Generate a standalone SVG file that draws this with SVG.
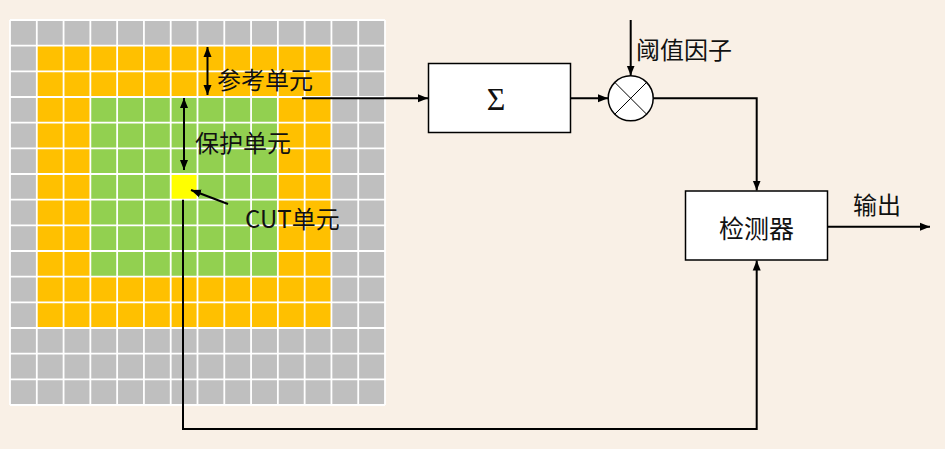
<svg xmlns="http://www.w3.org/2000/svg" width="945" height="449" viewBox="0 0 945 449">
<defs>
<style>
.ln{stroke:#000;stroke-width:2;fill:none}
.box{fill:#fff;stroke:#000;stroke-width:1.5}
.t{font-family:"Noto Sans CJK SC","Noto Sans",sans-serif;fill:#111}
.grid{stroke:#fff;stroke-width:1.8;fill:none}
</style>
<marker id="ah" viewBox="0 0 10 10" refX="10" refY="5" markerWidth="10" markerHeight="10" markerUnits="userSpaceOnUse" orient="auto-start-reverse">
<path d="M0,1 L10,5 L0,9 Z" fill="#000"/>
</marker>
</defs>
<rect width="945" height="449" fill="#F9F0E6"/>
<g id="grid">
<rect x="10" y="20" width="375" height="385" fill="#BFBFBF"/>
<rect x="36.79" y="45.67" width="294.64" height="282.33" fill="#FFC000"/>
<rect x="90.36" y="97" width="187.5" height="179.67" fill="#92D050"/>
<rect x="170.71" y="174" width="26.79" height="25.67" fill="#FFFF00"/>
<path class="grid" d="M10,20V405M36.79,20V405M63.57,20V405M90.36,20V405M117.14,20V405M143.93,20V405M170.71,20V405M197.5,20V405M224.29,20V405M251.07,20V405M277.86,20V405M304.64,20V405M331.43,20V405M358.21,20V405M385,20V405M10,20H385M10,45.67H385M10,71.33H385M10,97H385M10,122.67H385M10,148.33H385M10,174H385M10,199.67H385M10,225.33H385M10,251H385M10,276.67H385M10,302.33H385M10,328H385M10,353.67H385M10,379.33H385M10,405H385"/>
</g>
<g id="labels">
<line class="ln" x1="207.5" y1="47" x2="207.5" y2="95" marker-start="url(#ah)" marker-end="url(#ah)"/>
<text class="t" x="217" y="89" font-size="24">参考单元</text>
<line class="ln" x1="184" y1="98" x2="184" y2="170" marker-start="url(#ah)" marker-end="url(#ah)"/>
<text class="t" x="195" y="152" font-size="24">保护单元</text>
<line class="ln" x1="228" y1="204" x2="191" y2="190" marker-end="url(#ah)"/>
<text class="t" x="245" y="228" font-size="24">CUT单元</text>
</g>
<g id="sum">
<rect class="box" x="428.5" y="63.5" width="142" height="69"/>
<text x="496" y="110" font-size="32" text-anchor="middle" font-family="Liberation Serif,serif" fill="#111">Σ</text>
</g>
<g id="mult">
<circle cx="630.7" cy="98.3" r="22.5" fill="#fff" stroke="#000" stroke-width="1.5"/>
<path d="M614.8,82.4L646.6,114.2M646.6,82.4L614.8,114.2" stroke="#000" stroke-width="1"/>
<text class="t" x="636" y="59" font-size="24">阈值因子</text>
</g>
<g id="detector">
<rect class="box" x="685.5" y="191" width="142" height="69"/>
<text class="t" x="756.5" y="238" font-size="25" text-anchor="middle">检测器</text>
<text class="t" x="853" y="214" font-size="24">输出</text>
</g>
<g id="connectors">
<polyline class="ln" points="302,98.3 428,98.3" marker-end="url(#ah)"/>
<polyline class="ln" points="571,98.3 608,98.3" marker-end="url(#ah)"/>
<polyline class="ln" points="630.7,20 630.7,75.5" marker-end="url(#ah)"/>
<polyline class="ln" points="653.2,98.3 756.7,98.3 756.7,190.5" marker-end="url(#ah)"/>
<polyline class="ln" points="827.5,226.7 930,226.7" marker-end="url(#ah)"/>
<polyline class="ln" points="183,199.7 183,429 756.7,429 756.7,260.5" marker-end="url(#ah)"/>
</g>
</svg>
